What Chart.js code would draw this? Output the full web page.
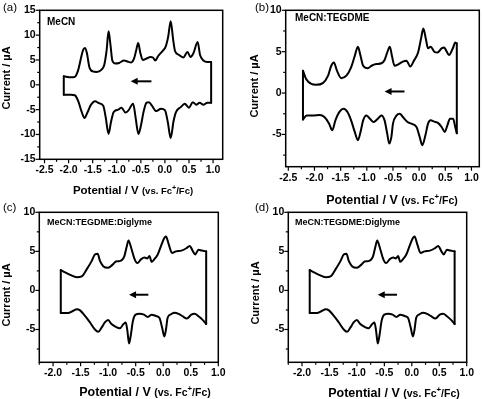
<!DOCTYPE html>
<html>
<head>
<meta charset="utf-8">
<script src="https://cdn.jsdelivr.net/npm/chart.js@4.4.1/dist/chart.umd.min.js"></script>
<style>
  body { margin: 0; background: #fff; width: 483px; height: 399px; position: relative; overflow: hidden; }
  canvas { position: absolute; }
</style>
</head>
<body>
<canvas id="cA" width="240" height="210" style="left:0;top:0"></canvas>
<canvas id="cB" width="250" height="210" style="left:240px;top:0"></canvas>
<canvas id="cC" width="240" height="199" style="left:0;top:200px"></canvas>
<canvas id="cD" width="250" height="199" style="left:240px;top:200px"></canvas>
<script>
const FONT = "Arial, 'Liberation Sans', sans-serif";

// (a) MeCN  -- potential (V vs Fc+/Fc) and current (uA)
const upperVA = [-2.10, -1.95, -1.87, -1.80, -1.74, -1.70, -1.66, -1.62, -1.57, -1.50, -1.42, -1.32, -1.26, -1.21, -1.17, -1.13, -1.09, -1.03, -0.95, -0.85, -0.78, -0.70, -0.64, -0.60, -0.555, -0.51, -0.46, -0.38, -0.30, -0.25, -0.20, -0.14, -0.05, 0.02, 0.07, 0.12, 0.17, 0.21, 0.28, 0.38, 0.47, 0.53, 0.59, 0.68, 0.73, 0.80, 0.88, 0.96];
const upperIA = [1.7, 1.5, 1.6, 3.0, 5.5, 7.0, 7.4, 6.4, 3.6, 2.7, 2.6, 3.0, 4.0, 7.0, 10.8, 8.0, 4.8, 4.3, 4.4, 4.9, 4.7, 4.5, 5.3, 6.8, 8.4, 6.4, 5.0, 5.3, 5.6, 5.5, 4.9, 5.8, 6.8, 7.8, 9.8, 12.8, 9.2, 6.8, 6.1, 5.5, 6.6, 5.6, 6.3, 8.6, 6.0, 4.9, 4.6, 4.6];
const lowerVA = [-2.10, -1.95, -1.87, -1.80, -1.73, -1.67, -1.61, -1.54, -1.45, -1.37, -1.28, -1.23, -1.17, -1.12, -1.07, -1.03, -0.97, -0.90, -0.82, -0.76, -0.66, -0.61, -0.55, -0.50, -0.44, -0.38, -0.33, -0.27, -0.18, -0.08, 0.0, 0.06, 0.12, 0.18, 0.23, 0.33, 0.41, 0.50, 0.58, 0.65, 0.72, 0.80, 0.88, 0.96];
const lowerIA = [-2.0, -2.0, -2.1, -3.3, -5.4, -6.7, -5.6, -4.1, -3.3, -3.7, -4.2, -6.5, -9.9, -7.5, -5.6, -5.2, -5.0, -4.6, -5.6, -5.2, -3.8, -6.5, -9.9, -8.3, -5.3, -3.6, -3.5, -4.2, -5.3, -4.8, -5.1, -7.5, -10.7, -7.3, -5.5, -4.5, -3.8, -4.6, -3.5, -4.0, -3.6, -4.0, -3.6, -3.6];
const arrowA = [-0.28, -0.71, 0.7];
const xTicksA = [-2.5, -2.0, -1.5, -1.0, -0.5, 0.0, 0.5, 1.0];
const yTicksA = [-15, -10, -5, 0, 5, 10, 15];

// (b) MeCN:TEGDME
const upperVB = [-2.22, -2.16, -2.06, -1.97, -1.84, -1.74, -1.68, -1.63, -1.57, -1.49, -1.39, -1.30, -1.23, -1.17, -1.12, -1.07, -0.98, -0.91, -0.82, -0.72, -0.66, -0.61, -0.56, -0.52, -0.47, -0.39, -0.31, -0.24, -0.17, -0.10, -0.02, 0.04, 0.08, 0.13, 0.17, 0.22, 0.29, 0.35, 0.43, 0.48, 0.52, 0.57, 0.65, 0.69, 0.72];
const upperIB = [2.7, 1.7, 1.1, 1.0, 1.2, 2.1, 3.3, 3.7, 2.7, 1.8, 2.1, 3.1, 4.5, 5.6, 4.5, 3.3, 3.0, 3.3, 3.5, 3.6, 4.0, 4.9, 5.6, 4.5, 3.3, 3.5, 3.8, 3.9, 3.2, 3.9, 4.9, 6.7, 7.8, 6.5, 5.4, 5.6, 5.0, 4.9, 5.4, 5.5, 5.1, 4.6, 5.5, 6.1, 6.0];
const lowerVB = [-2.22, -2.15, -2.03, -1.90, -1.81, -1.72, -1.66, -1.60, -1.52, -1.44, -1.37, -1.30, -1.23, -1.17, -1.12, -1.07, -1.01, -0.94, -0.87, -0.79, -0.72, -0.66, -0.61, -0.57, -0.53, -0.50, -0.43, -0.37, -0.31, -0.22, -0.15, -0.05, 0.01, 0.06, 0.12, 0.17, 0.22, 0.29, 0.36, 0.43, 0.49, 0.54, 0.59, 0.65, 0.69, 0.72];
const lowerIB = [-3.2, -2.7, -2.7, -2.65, -2.9, -3.7, -4.5, -3.3, -2.25, -1.9, -2.3, -3.3, -4.7, -5.7, -4.7, -3.3, -2.7, -3.1, -3.5, -3.1, -2.7, -3.3, -4.9, -6.1, -5.3, -3.7, -2.7, -2.5, -2.9, -3.5, -3.7, -4.1, -5.3, -6.3, -5.1, -3.7, -3.3, -3.45, -3.6, -4.1, -4.7, -3.9, -3.1, -3.1, -4.1, -4.85];
const arrowB = [-0.28, -0.66, 0.19];
const xTicksB = [-2.5, -2.0, -1.5, -1.0, -0.5, 0.0, 0.5, 1.0];
const yTicksB = [-5, 0, 5, 10];

// (c) and (d) MeCN:TEGDME:Diglyme (same trace shown twice)
const upperVC = [-1.86, -1.78, -1.69, -1.57, -1.48, -1.39, -1.30, -1.24, -1.19, -1.15, -1.09, -1.00, -0.92, -0.86, -0.79, -0.71, -0.66, -0.63, -0.58, -0.52, -0.47, -0.40, -0.34, -0.29, -0.25, -0.21, -0.16, -0.10, -0.04, 0.02, 0.05, 0.10, 0.16, 0.23, 0.33, 0.42, 0.48, 0.54, 0.58, 0.64, 0.70, 0.78];
const upperIC = [2.6, 2.3, 2.0, 1.7, 1.8, 2.7, 3.75, 4.6, 4.7, 3.8, 3.1, 2.9, 3.3, 3.7, 3.75, 4.3, 5.7, 6.4, 5.4, 4.0, 3.5, 4.0, 4.2, 4.1, 4.4, 3.66, 4.0, 4.6, 5.7, 6.7, 6.9, 5.9, 4.8, 5.0, 5.1, 5.4, 5.7, 5.0, 4.6, 5.2, 5.1, 5.0];
const lowerVC = [-1.86, -1.72, -1.63, -1.57, -1.51, -1.42, -1.33, -1.24, -1.18, -1.12, -1.06, -1.00, -0.94, -0.86, -0.79, -0.72, -0.68, -0.65, -0.62, -0.59, -0.55, -0.50, -0.43, -0.35, -0.28, -0.21, -0.13, -0.07, -0.02, 0.02, 0.05, 0.08, 0.14, 0.20, 0.28, 0.35, 0.43, 0.51, 0.57, 0.64, 0.72, 0.78];
const lowerIC = [-2.9, -2.88, -2.6, -2.42, -2.55, -3.27, -4.1, -5.0, -5.3, -4.76, -4.1, -3.8, -4.3, -4.67, -4.85, -4.3, -4.1, -5.2, -6.8, -5.8, -3.9, -3.1, -3.0, -3.1, -3.4, -3.1, -3.27, -3.5, -4.76, -5.9, -5.0, -3.5, -3.06, -2.85, -3.0, -3.3, -3.6, -3.1, -3.0, -3.3, -3.8, -4.3];
const arrowC = [-0.27, -0.62, -0.55];
const xTicksC = [-2.0, -1.5, -1.0, -0.5, 0.0, 0.5, 1.0];
const yTicksC = [-5, 0, 5, 10];

const pts = (v, c) => v.map((x, k) => ({x, y: c[k]}));

function drawXTitle(ctx, cx, cy, big, small) {
  const parts = [
    ['Potential / V ', big, 0],
    ['(vs. Fc', small, 0],
    ['+', small * 0.75, -small * 0.4],
    ['/Fc)', small, 0]
  ];
  let total = 0;
  parts.forEach(p => { ctx.font = `bold ${p[1]}px ${FONT}`; total += ctx.measureText(p[0]).width; });
  let x = cx - total / 2;
  ctx.textAlign = 'left';
  ctx.textBaseline = 'alphabetic';
  parts.forEach(p => {
    ctx.font = `bold ${p[1]}px ${FONT}`;
    ctx.fillText(p[0], x, cy + big * 0.36 + p[2]);
    x += ctx.measureText(p[0]).width;
  });
}

const decor = {
  id: 'decor',
  afterDraw(chart, args, o) {
    const {ctx, chartArea: a, scales: {x, y}} = chart;
    ctx.save();
    ctx.strokeStyle = '#000';
    ctx.fillStyle = '#000';
    ctx.lineWidth = 1.5;
    ctx.strokeRect(a.left, a.top, a.right - a.left, a.bottom - a.top);

    // major + minor tick marks, pointing outward
    ctx.lineWidth = 1.2;
    const marks = (scale, vals, horiz) => {
      const step = vals[1] - vals[0];
      for (let v = vals[0] - step / 2; v <= vals[vals.length - 1] + step / 2 + 1e-9; v += step / 2) {
        if (v < scale.min - 1e-9 || v > scale.max + 1e-9) continue;
        const major = vals.some(t => Math.abs(t - v) < 1e-6);
        const len = major ? 4 : 2.5;
        const p = scale.getPixelForValue(v);
        ctx.beginPath();
        if (horiz) { ctx.moveTo(p, a.bottom); ctx.lineTo(p, a.bottom + len); }
        else { ctx.moveTo(a.left, p); ctx.lineTo(a.left - len, p); }
        ctx.stroke();
      }
    };
    marks(x, o.xTicks, true);
    marks(y, o.yTicks, false);

    // scan direction arrow
    const ax0 = x.getPixelForValue(o.arrow[0]);
    const ax1 = x.getPixelForValue(o.arrow[1]);
    const ay = y.getPixelForValue(o.arrow[2]);
    ctx.lineWidth = 2;
    ctx.beginPath();
    ctx.moveTo(ax0, ay);
    ctx.lineTo(ax1 + 5, ay);
    ctx.stroke();
    ctx.beginPath();
    ctx.moveTo(ax1, ay);
    ctx.lineTo(ax1 + 7, ay - 3.5);
    ctx.lineTo(ax1 + 7, ay + 3.5);
    ctx.closePath();
    ctx.fill();

    // panel letter and solvent label
    ctx.textBaseline = 'middle';
    ctx.textAlign = 'left';
    ctx.font = `11.5px ${FONT}`;
    ctx.fillText(o.letter, o.letterAt[0], o.letterAt[1]);
    ctx.font = `bold ${o.nameSize}px ${FONT}`;
    ctx.fillText(o.name, o.nameAt[0], o.nameAt[1]);

    // y title
    ctx.save();
    ctx.translate(o.yTitleAt[0], o.yTitleAt[1]);
    ctx.rotate(-Math.PI / 2);
    ctx.textAlign = 'center';
    ctx.font = `bold 11px ${FONT}`;
    ctx.fillText('Current / µA', 0, 0);
    ctx.restore();

    drawXTitle(ctx, o.xTitleAt[0], o.xTitleAt[1], o.xTitleSize[0], o.xTitleSize[1]);
    ctx.restore();
  }
};

function panel(id, upV, upI, loV, loI, xr, yr, xTicks, yTicks, box, deco) {
  const el = document.getElementById(id);
  const line = {showLine: true, borderColor: '#000', borderWidth: 2, pointRadius: 0,
                borderJoinStyle: 'round', borderCapStyle: 'round', fill: false};
  const tickFont = {family: FONT, size: 10.5, weight: 'bold'};
  return new Chart(el, {
    type: 'scatter',
    data: {
      datasets: [
        {...line, data: pts(upV, upI), cubicInterpolationMode: 'monotone'},
        {...line, data: pts(loV, loI), cubicInterpolationMode: 'monotone'},
        {...line, data: [pts(upV, upI)[0], pts(loV, loI)[0]]},
        {...line, data: [pts(upV, upI)[upV.length - 1], pts(loV, loI)[loV.length - 1]]}
      ]
    },
    options: {
      responsive: false,
      animation: false,
      devicePixelRatio: 1,
      layout: {padding: {left: 0, top: box[1], right: el.width - box[2], bottom: 0}},
      plugins: {
        legend: {display: false},
        tooltip: {enabled: false},
        decor: {...deco, xTicks, yTicks}
      },
      scales: {
        x: {
          type: 'linear', min: xr[0], max: xr[1],
          afterBuildTicks: s => { s.ticks = xTicks.map(v => ({value: v})); },
          afterFit: s => { s.height = el.height - box[3]; },
          grid: {display: false, drawTicks: false},
          border: {display: false},
          ticks: {font: tickFont, color: '#000', padding: 5, maxRotation: 0, autoSkip: false,
                  callback: v => v.toFixed(1)}
        },
        y: {
          type: 'linear', min: yr[0], max: yr[1],
          afterBuildTicks: s => { s.ticks = yTicks.map(v => ({value: v})); },
          afterFit: s => { s.width = box[0]; },
          grid: {display: false, drawTicks: false},
          border: {display: false},
          ticks: {font: tickFont, color: '#000', padding: 4, autoSkip: false,
                  callback: v => String(v)}
        }
      }
    },
    plugins: [decor]
  });
}

panel('cA', upperVA, upperIA, lowerVA, lowerIA, [-2.6, 1.2], [-15, 15], xTicksA, yTicksA,
  [39.7, 9, 222.7, 159.3],
  {arrow: arrowA, letter: '(a)', letterAt: [3, 7.5], name: 'MeCN', nameAt: [47, 22], nameSize: 10,
   yTitleAt: [7, 78], xTitleAt: [133, 190], xTitleSize: [11.5, 9.5]});

panel('cB', upperVB, upperIB, lowerVB, lowerIB, [-2.55, 1.15], [-8.9, 10], xTicksB, yTicksB,
  [45.7, 9, 239.3, 166.7],
  {arrow: arrowB, letter: '(b)', letterAt: [15, 7.5], name: 'MeCN:TEGDME', nameAt: [55, 18], nameSize: 10,
   yTitleAt: [15, 86], xTitleAt: [152, 199], xTitleSize: [12.5, 10.5]});

panel('cC', upperVC, upperIC, lowerVC, lowerIC, [-2.25, 1.0], [-9.2, 10], xTicksC, yTicksC,
  [39.3, 12.3, 218.3, 162.3],
  {arrow: arrowC, letter: '(c)', letterAt: [3, 8], name: 'MeCN:TEGDME:Diglyme', nameAt: [47, 22.5], nameSize: 9,
   yTitleAt: [7, 95], xTitleAt: [145, 191], xTitleSize: [12.5, 10.5]});

panel('cD', upperVC, upperIC, lowerVC, lowerIC, [-2.25, 1.0], [-9.2, 10], xTicksC, yTicksC,
  [48.3, 12.3, 226.7, 162.3],
  {arrow: arrowC, letter: '(d)', letterAt: [15, 8], name: 'MeCN:TEGDME:Diglyme', nameAt: [55, 22.5], nameSize: 9,
   yTitleAt: [16, 93], xTitleAt: [154, 192], xTitleSize: [12.5, 10.5]});
</script>
</body>
</html>
